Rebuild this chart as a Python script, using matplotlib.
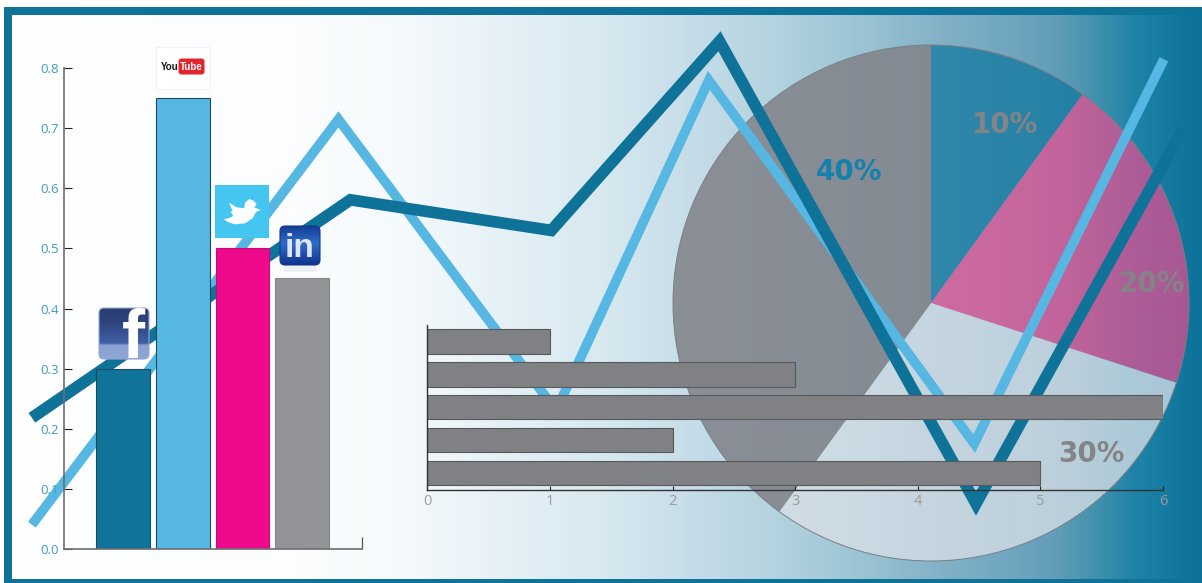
import numpy as np
import matplotlib
matplotlib.use('Agg')
import matplotlib.pyplot as plt
from matplotlib.colors import LinearSegmentedColormap
from matplotlib.patches import FancyBboxPatch, Polygon, Rectangle

W, H = 1202, 583

# column chart
bar_pos = [1, 2, 3, 4]
bar_vals = [0.30, 0.75, 0.50, 0.45]
bar_cols = ['#10739a', '#55b7e2', '#ee0a8b', '#929497']
bar_edges = ['#1d4a5e', '#1d4a5e', '#c8087c', '#85868a']
y_ticks = [0.0, 0.1, 0.2, 0.3, 0.4, 0.5, 0.6, 0.7, 0.8]

# two zigzag lines, on the column chart's scales
dark_x = [-0.53, 4.81, 8.18, 11.0, 15.3, 18.78]
dark_y = [0.218, 0.581, 0.53, 0.845, 0.075, 0.70]
light_x = [-0.53, 4.61, 8.26, 10.82, 15.27, 18.45]
light_y = [0.04, 0.715, 0.23, 0.78, 0.175, 0.815]

# horizontal bars
hbar_pos = [5, 4, 3, 2, 1]
hbar_vals = [1, 3, 6, 2, 5]
hbar_ticks = [0, 1, 2, 3, 4, 5, 6]

# pie
pie_vals = [10, 20, 30, 40]
pie_labels = ['10%', '20%', '30%', '40%']
pie_cols = ['#0f779f', '#f14a8f', '#dbe1e8', '#82848b']
pie_alpha = [0.72, 0.68, 0.75, 0.88]
pie_label_cols = ['#848487', '#848487', '#848487', '#1580ab']
pie_label_x = [0.287, 0.857, 0.62, -0.318]
pie_label_y = [0.702, 0.086, -0.572, 0.52]

# page background
bg_x = [0, 300, 400, 500, 600, 700, 780, 850, 950, 1050, 1085, 1135, 1202]
bg_cols = ['#ffffff', '#fbfdfe', '#f5fafc', '#e6f1f7', '#d8e9f0', '#c4dce8', '#b3d2df',
           '#9fc6d6', '#80b0c6', '#669fbb', '#4e96b0', '#1f84a8', '#0c729a']

frame_col = '#0f7299'
body_font = ['Open Sans', 'DejaVu Sans']
bold_font = ['Liberation Sans', 'DejaVu Sans']


def px_axes(fig, left, top, right, bottom, z):
    # axes placed by pixel edges, y counted from the top of the figure
    ax = fig.add_axes([left / W, 1 - bottom / H, (right - left) / W, (bottom - top) / H])
    ax.set_zorder(z)
    ax.patch.set_visible(False)
    return ax


fig = plt.figure(figsize=(W / 100, H / 100), dpi=100, facecolor='white')

# background gradient and frame
bg = px_axes(fig, 0, 0, W, H, 0)
cmap = LinearSegmentedColormap.from_list('page', [(x / W, c) for x, c in zip(bg_x, bg_cols)])
bg.imshow(np.linspace(0, 1, W).reshape(1, -1), cmap=cmap, aspect='auto', extent=(0, W, H, 0))
bg.add_patch(Rectangle((0, 0), W, 7, fc='white', ec='none'))
bg.add_patch(Rectangle((0, 0), 4, H, fc='white', ec='none'))
bg.add_patch(Rectangle((4, 7), 8, H, fc=frame_col, ec='none'))
bg.add_patch(Rectangle((4, 7), W, 8, fc=frame_col, ec='none'))
bg.add_patch(Rectangle((4, 579), W, 4, fc=frame_col, ec='none'))
bg.set_xlim(0, W)
bg.set_ylim(H, 0)
bg.axis('off')

# pie
pie_ax = px_axes(fig, 673, 45, 1189, 561, 1)
wedges, _ = pie_ax.pie(pie_vals, colors=pie_cols, startangle=90, counterclock=False, radius=1,
                       wedgeprops={'edgecolor': 'none'})
for w, a in zip(wedges, pie_alpha):
    w.set_alpha(a)
pie_ax.pie([1], colors=['none'], radius=1, wedgeprops={'edgecolor': '#7a7f84', 'linewidth': 0.7})
for i in range(len(pie_labels)):
    pie_ax.text(pie_label_x[i], pie_label_y[i], pie_labels[i], color=pie_label_cols[i],
                family='DejaVu Sans', weight='bold', fontsize=20, ha='center', va='center_baseline')
pie_ax.set_xlim(-1, 1)
pie_ax.set_ylim(-1, 1)

# column chart and the lines behind it
ax = px_axes(fig, 63.5, 68.3, 361.7, 548.7, 2)
ax.plot(light_x, light_y, color='#55b7e2', lw=7.0, solid_joinstyle='miter',
        solid_capstyle='butt', clip_on=False, zorder=1)
ax.plot(dark_x, dark_y, color=frame_col, lw=8.4, solid_joinstyle='miter',
        solid_capstyle='butt', clip_on=False, zorder=1.1)
ax.bar(bar_pos, bar_vals, width=0.9, color=bar_cols, edgecolor=bar_edges, linewidth=0.8, zorder=2)
ax.set_xlim(0, 5)
ax.set_ylim(0, 0.8)
ax.set_xticks([5])
ax.set_xticklabels([])
ax.set_yticks(y_ticks)
ax.set_yticklabels(['%.1f' % t for t in y_ticks], family=body_font, fontsize=9.5, color='#3f9dc4')
ax.tick_params(axis='y', direction='in', length=5.8, width=0.8, color='#222222', pad=3)
ax.tick_params(axis='x', direction='in', length=8.6, width=0.9, color='#555555')
for s in ['top', 'right']:
    ax.spines[s].set_visible(False)
for s in ['left', 'bottom']:
    ax.spines[s].set_color('#6d6e71')
    ax.spines[s].set_linewidth(1.2)

# horizontal bars
hax = px_axes(fig, 427.3, 325, 1163, 489.5, 3)
hax.barh(hbar_pos, hbar_vals, height=0.74, color='#808184', edgecolor='#58595b', linewidth=0.8)
hax.set_xlim(0, 6)
hax.set_ylim(0.5, 5.5)
hax.set_yticks([])
hax.set_xticks(hbar_ticks)
hax.set_xticklabels([str(t) for t in hbar_ticks], family=body_font, fontsize=10.5, color='#9a9a9a')
hax.tick_params(axis='x', direction='in', length=3.2, width=0.8, color='#222222', pad=3)
for s in ['top', 'right']:
    hax.spines[s].set_visible(False)
for s in ['left', 'bottom']:
    hax.spines[s].set_color('#333333')
    hax.spines[s].set_linewidth(1.0)

# brand badges above the columns
icons = px_axes(fig, 0, 0, W, H, 4)

# YouTube
icons.add_patch(Rectangle((156, 47), 53.5, 41.7, fc='white', ec='#f0f0f0', lw=0.6))
icons.add_patch(FancyBboxPatch((179.5, 59.5), 24, 14, boxstyle='round,pad=1,rounding_size=3',
                               fc='#e3262e', ec='none'))
icons.text(169.3, 66.5, 'You', family=bold_font, weight='bold', fontsize=7,
           color='#1a1a1a', ha='center', va='center')
icons.text(191.5, 66.5, 'Tube', family=bold_font, weight='bold', fontsize=7,
           color='white', ha='center', va='center')

# Twitter
icons.add_patch(Rectangle((215, 184.5), 54, 53.5, fc='#45c6f0', ec='none'))
bird = np.array([[42, 118], [60, 113], [70, 108], [62, 95], [68, 93], [57, 68], [80, 82],
                 [103, 85], [105, 68], [118, 57], [130, 62], [140, 72], [133, 82], [152, 90],
                 [138, 96], [128, 115], [105, 130], [75, 133], [55, 127]]) / 3.0 + [210, 180]
icons.add_patch(Polygon(bird, closed=True, fc='white', ec='none'))

# Facebook
fb_box = FancyBboxPatch((100, 309), 48, 49, boxstyle='round,pad=1,rounding_size=5',
                        fc='none', ec='#9aa8cc', lw=0.8)
icons.add_patch(fb_box)
fb_map = LinearSegmentedColormap.from_list('fb', [(0, '#2b3d72'), (0.3, '#2f4580'),
                                                  (0.68, '#4060a8'), (0.72, '#8ba2d3'),
                                                  (1, '#8fa5d6')])
fb_img = icons.imshow(np.linspace(0, 1, 60).reshape(-1, 1), cmap=fb_map, aspect='auto',
                      extent=(99, 150, 360, 308))
fb_img.set_clip_path(fb_box)
fb_txt = icons.text(133, 358, 'f', family=bold_font, weight='bold', fontsize=50,
                    color='white', ha='center', va='baseline')
fb_txt.set_clip_path(fb_box)

# LinkedIn
in_box = FancyBboxPatch((281, 227), 38, 37, boxstyle='round,pad=1,rounding_size=5',
                        fc='none', ec='#163a8a', lw=0.8)
icons.add_patch(in_box)
in_map = LinearSegmentedColormap.from_list('in', [(0, '#123a94'), (0.45, '#2f6cc8'), (1, '#0f2f8c')])
in_img = icons.imshow(np.linspace(0, 1, 50).reshape(-1, 1), cmap=in_map, aspect='auto',
                      extent=(279, 321, 266, 225))
in_img.set_clip_path(in_box)
icons.text(299.5, 257, 'in', family=bold_font, weight='bold', fontsize=24,
           color='#dfe6f2', ha='center', va='baseline')
icons.add_patch(Rectangle((284, 266), 32, 6, fc='#d5dbe4', ec='none', alpha=0.35))

icons.set_xlim(0, W)
icons.set_ylim(H, 0)
icons.axis('off')

fig.savefig('out.png', dpi=100)
